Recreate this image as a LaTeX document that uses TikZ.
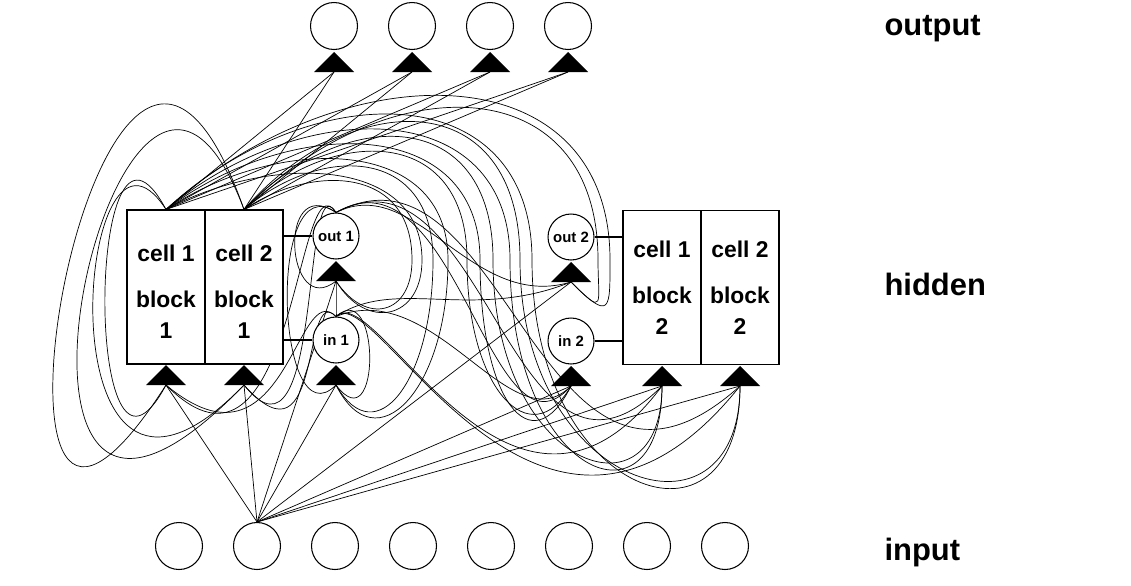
\documentclass[tikz,border=0pt]{standalone}
\usepackage{fontspec}
\setmainfont{Liberation Sans}
\usetikzlibrary{backgrounds}

\begin{document}
\begin{tikzpicture}[x=0.02cm,y=0.02cm,line width=0.6pt]
    \tikzstyle{unit}=[circle,draw=black,fill=white,minimum size=0.94cm,inner sep=0pt]
    \tikzstyle{gate}=[circle,draw=black,fill=white,minimum size=0.92cm,inner sep=0pt,font=\bfseries\fontsize{8.5}{10}\selectfont]
    \tikzstyle{cell}=[rectangle,draw=black,fill=white,minimum width=1.56cm,minimum height=3.08cm,inner sep=0pt,align=center,font=\bfseries\fontsize{13}{17.6}\selectfont]
    \tikzstyle{layer}=[anchor=base west,inner sep=0pt,font=\bfseries\fontsize{17.6}{20}\selectfont]
    \tikzstyle{wire}=[line width=0.55pt]
    \useasboundingbox (0,0) rectangle (1131,-585);

    % output and input units
    \foreach \i in {1,...,4}
        \node[unit] (y-\i) at (256+78*\i,-26) {};
    \foreach \i in {1,...,8}
        \node[unit] (x-\i) at (101+78*\i,-546) {};

    % the two memory cell blocks and their gates
    \node[cell] (c11) at (166,-287) {\rule{0pt}{15pt}cell 1\\[8.5pt]block\\1};
    \node[cell] (c21) at (244,-287) {\rule{0pt}{15pt}cell 2\\[8.5pt]block\\1};
    \node[cell] (c12) at (662,-287.5) {cell 1\\[8.5pt]block\\2};
    \node[cell] (c22) at (740,-287.5) {cell 2\\[8.5pt]block\\2};
    \node[gate] (o1) at (336,-236) {out 1};
    \node[gate] (i1) at (336,-340) {in 1};
    \node[gate] (o2) at (571,-237) {out 2};
    \node[gate] (i2) at (571,-341) {in 2};

    \draw (o1) -- (o1 -| c21.east);
    \draw (i1) -- (i1 -| c21.east);
    \draw (o2) -- (o2 -| c12.west);
    \draw (i2) -- (i2 -| c12.west);

    \node[layer] (lbl-out) at (884,-35) {output};
    \node[layer] (lbl-hid) at (884,-295) {hidden};
    \node[layer] (lbl-in) at (884,-560) {input};

    % input arrowheads
    \foreach \name/\x/\y in {tc11/166/385, tc21/244/385, ti1/336/385, to1/336/281,
                             ti2/571/386, to2/571/282, tc12/662/386, tc22/740/386}
        \coordinate (\name) at (\x,-\y);
    \foreach \i in {1,...,4}
        \coordinate (ty-\i) at (256+78*\i,-72);
    \foreach \name in {tc11,tc21,ti1,to1,ti2,to2,tc12,tc22,ty-1,ty-2,ty-3,ty-4}
        \fill (\name) +(-20,0) -- +(20,0) -- +(0,20) -- cycle;

    \begin{scope}[on background layer,wire]
        % cells of block 1 to the output layer
        \foreach \src in {c11,c21}
            \foreach \i in {1,...,4}
                \draw (\src.north) -- (ty-\i);
        % input unit 2 to every cell and gate
        \foreach \dst in {tc11,tc21,ti1,to1,ti2,to2,tc12,tc22}
            \draw (x-2.north) -- (\dst);
        % cells of block 1 back to the left
        \foreach \src/\dst/\ax/\ay/\bx/\by in {
                c11.north/tc11/-80/150/-83/-155,   c11.north/tc21/-90/140/-208/-215,
                c21.north/tc11/-144/410/-227/-355, c21.north/tc21/-124/330/-304/-315}
            \draw (\src) .. controls +(\ax,\ay) and +(\bx,\by) .. (\dst);
        % cells of block 1 over the top to the right
        \foreach \src/\dst/\cx/\ax/\ay/\dn/\bx/\by in {
                c11.north/to2/610/178/160/50/40/-40,   c21.north/to2/598/142/144/45/35/-35,
                c11.north/tc22/532/146/135/240/0/-180, c21.north/tc22/520/110/125/230/0/-170,
                c11.north/tc12/510/138/115/220/0/-150, c21.north/tc12/493/100/105/210/0/-140,
                c11.north/ti2/480/126/95/140/-40/-80,  c21.north/ti2/467/89/85/130/-40/-70,
                c11.north/ti1/448/113/75/130/40/-80,   c21.north/ti1/433/76/65/120/40/-70,
                c11.north/to1/422/102/55/60/30/-50,    c21.north/to1/412/67/45/55/30/-45}
            \draw (\src) .. controls +(\ax,\ay) and +(0,\ay+50) .. (\cx,-260)
                         .. controls +(0,-\dn) and +(\bx,\by) .. (\dst);
        % gates of block 1
        \foreach \src/\dst/\ax/\ay/\bx/\by in {
                o1.north/tc11/-40/60/130/-130,    o1.north/tc21/-35/55/80/-100,
                o1.north/to1/-60/40/-50/-40,      o1.north/ti1/-70/50/-60/-60,
                o1.north/to2/80/40/-100/-30,      o1.north/ti2/120/70/-80/-90,
                o1.north/tc12/150/80/-150/-150,   o1.north/tc22/170/90/-200/-180,
                i1.north/tc11/-40/40/120/-100,    i1.north/tc21/-35/35/80/-90,
                i1.north/to1/0/10/0/-10,          i1.north/ti1/45/40/45/-60,
                i1.north/to2/60/40/-100/-40,      i1.north/ti2/100/40/-60/-60,
                i1.north/tc12/40/40/-150/-200,    i1.north/tc22/40/40/-200/-250}
            \draw (\src) .. controls +(\ax,\ay) and +(\bx,\by) .. (\dst);
    \end{scope}
\end{tikzpicture}
\end{document}
